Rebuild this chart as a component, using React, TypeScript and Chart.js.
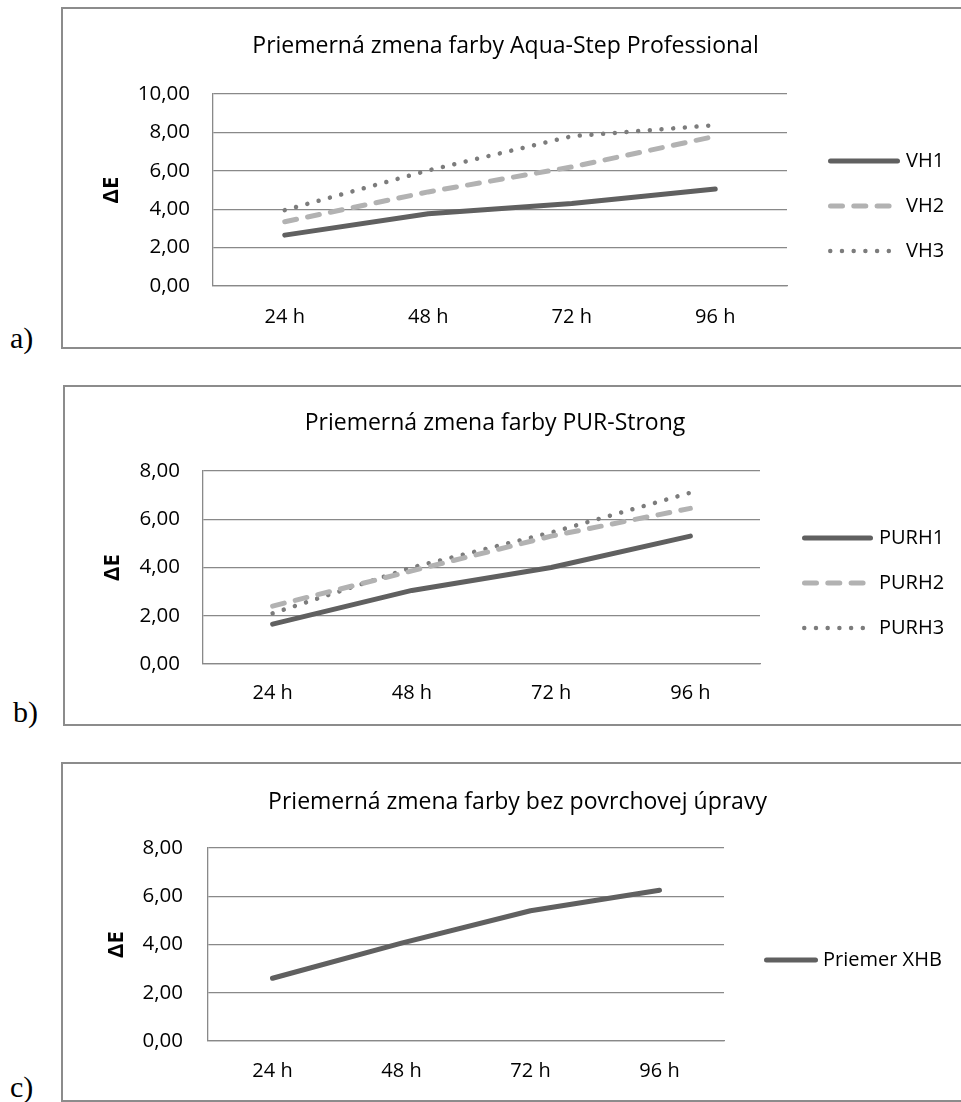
import React, { useEffect, useRef } from 'react';
import { Chart, registerables } from 'chart.js';

Chart.register(...registerables);

// ---------- data ----------
const categories = ['24 h', '48 h', '72 h', '96 h'];

const titleA = 'Priemerná zmena farby Aqua-Step Professional';
const titleB = 'Priemerná zmena farby PUR-Strong';
const titleC = 'Priemerná zmena farby bez povrchovej úpravy';
const yAxisTitle = 'ΔE';

const vh1 = [2.65, 3.76, 4.3, 5.05];
const vh2 = [3.35, 4.9, 6.2, 7.8];
const vh3 = [3.95, 6.02, 7.8, 8.38];

const purh1 = [1.65, 3.05, 4.0, 5.3];
const purh2 = [2.4, 3.86, 5.3, 6.45];
const purh3 = [2.1, 4.0, 5.45, 7.1];

const priemerXhb = [2.6, 4.06, 5.4, 6.25];

const yMaxA = 10;
const yMaxB = 8;
const yMaxC = 8;
const yStep = 2;

const panelLabels = ['a)', 'b)', 'c)'];

// ---------- styles ----------
const FONT = '"Open Sans", Lato, sans-serif';
const GRID = '#898989';
const BOX = '#8c8c8c';

const solid = { borderColor: '#606060', borderWidth: 5, borderDash: [] as number[], borderCapStyle: 'round' };
const dashed = { borderColor: '#b2b2b2', borderWidth: 5, borderDash: [12, 11.3], borderCapStyle: 'round' };
const dotted = { borderColor: '#7c7c7c', borderWidth: 4.5, borderDash: [0.01, 11.7], borderCapStyle: 'round' };

const fmt = (v: number) => v.toFixed(2).replace('.', ',');

const lineLegend = {
  id: 'lineLegend',
  afterDraw(chart: any, _args: any, opts: any) {
    const { ctx, chartArea } = chart;
    const ds = chart.data.datasets;
    const n = ds.length;
    const cy = (chartArea.top + chartArea.bottom) / 2 + opts.offsetY;
    const x0 = chartArea.right + opts.gap;
    ds.forEach((d: any, i: number) => {
      const y = cy + (i - (n - 1) / 2) * opts.rowGap;
      const w = d.borderWidth;
      ctx.save();
      ctx.strokeStyle = d.borderColor;
      ctx.lineWidth = w;
      ctx.lineCap = d.borderCapStyle || 'butt';
      ctx.setLineDash(d.borderDash || []);
      ctx.beginPath();
      ctx.moveTo(x0 + w / 2, y);
      ctx.lineTo(x0 + opts.lineLength - w / 2, y);
      ctx.stroke();
      ctx.restore();
      ctx.save();
      ctx.fillStyle = opts.color;
      ctx.font = `${opts.fontSize}px ${FONT}`;
      ctx.textBaseline = 'middle';
      ctx.textAlign = 'left';
      ctx.fillText(d.label, x0 + opts.lineLength + opts.textGap, y);
      ctx.restore();
    });
  },
};

type Panel = {
  label: string;
  title: string;
  series: { label: string; data: number[]; style: any }[];
  yMax: number;
  box: { left: number; top: number; height: number };
  canvas: { left: number; top: number; width: number; height: number };
  padRight: number;
  yW: number;
  y2W: number;
  xH: number;
  titlePad: { top: number; bottom: number };
  yTitlePad: number;
  yTickPad: number;
  xTickPad: number;
  legend: { gap: number; offsetY: number; rowGap: number; lineLength: number; textGap: number };
  labelPos: { left: number; top: number };
};

const panels: Panel[] = [
  {
    label: panelLabels[0],
    title: titleA,
    series: [
      { label: 'VH1', data: vh1, style: solid },
      { label: 'VH2', data: vh2, style: dashed },
      { label: 'VH3', data: vh3, style: dotted },
    ],
    yMax: yMaxA,
    box: { left: 61, top: 7, height: 342 },
    canvas: { left: 63, top: 10, width: 912, height: 330 },
    padRight: 27,
    yW: 150,
    y2W: 161,
    xH: 54,
    titlePad: { top: 22.6, bottom: 33.8 },
    yTitlePad: 35.5,
    yTickPad: 23,
    xTickPad: 19,
    legend: { gap: 41, offsetY: 16, rowGap: 45, lineLength: 72, textGap: 6 },
    labelPos: { left: 10, top: 323 },
  },
  {
    label: panelLabels[1],
    title: titleB,
    series: [
      { label: 'PURH1', data: purh1, style: solid },
      { label: 'PURH2', data: purh2, style: dashed },
      { label: 'PURH3', data: purh3, style: dotted },
    ],
    yMax: yMaxB,
    box: { left: 63, top: 385, height: 341 },
    canvas: { left: 65, top: 387, width: 910, height: 331 },
    padRight: 50,
    yW: 138,
    y2W: 165,
    xH: 54,
    titlePad: { top: 22.6, bottom: 33.8 },
    yTitlePad: 34.8,
    yTickPad: 23,
    xTickPad: 17,
    legend: { gap: 42, offsetY: 15.5, rowGap: 45, lineLength: 71, textGap: 6 },
    labelPos: { left: 13, top: 697 },
  },
  {
    label: panelLabels[2],
    title: titleC,
    series: [{ label: 'Priemer XHB', data: priemerXhb, style: solid }],
    yMax: yMaxC,
    box: { left: 61, top: 762, height: 340 },
    canvas: { left: 63, top: 764, width: 922, height: 331 },
    padRight: 13,
    yW: 145,
    y2W: 248,
    xH: 54,
    titlePad: { top: 24.6, bottom: 31.8 },
    yTitlePad: 40.8,
    yTickPad: 25,
    xTickPad: 18,
    legend: { gap: 40, offsetY: 15.5, rowGap: 45, lineLength: 54, textGap: 5 },
    labelPos: { left: 10, top: 1072 },
  },
];

function ChartPanel({ p }: { p: Panel }) {
  const ref = useRef<HTMLCanvasElement | null>(null);
  useEffect(() => {
    if (!ref.current) return;
    const chart = new Chart(ref.current, {
      type: 'line',
      data: {
        labels: categories,
        datasets: p.series.map((s) => ({
          label: s.label,
          data: s.data,
          borderColor: s.style.borderColor,
          borderWidth: s.style.borderWidth,
          borderDash: s.style.borderDash,
          borderCapStyle: s.style.borderCapStyle,
          borderJoinStyle: 'round',
          backgroundColor: s.style.borderColor,
          pointRadius: 0,
          pointHoverRadius: 0,
          tension: 0,
          fill: false,
        })),
      },
      options: {
        responsive: false,
        maintainAspectRatio: false,
        animation: false,
        devicePixelRatio: 1,
        layout: { padding: { left: 0, top: 0, bottom: 0, right: p.padRight } },
        events: [],
        plugins: {
          legend: { display: false },
          tooltip: { enabled: false },
          title: {
            display: true,
            text: p.title,
            color: '#000',
            font: { family: FONT, size: 23, weight: 'normal', lineHeight: 1.2 },
            padding: { top: p.titlePad.top, bottom: p.titlePad.bottom },
          },
          lineLegend: { ...p.legend, color: '#000', fontSize: 20 },
        } as any,
        scales: {
          x: {
            type: 'category',
            offset: true,
            grid: { display: false, drawTicks: false },
            border: { display: true, color: GRID, width: 1.3 },
            ticks: { color: '#000', padding: p.xTickPad, font: { family: FONT, size: 20 }, maxRotation: 0 },
            afterFit: (s: any) => {
              s.height = p.xH;
            },
          },
          y: {
            type: 'linear',
            position: 'left',
            min: 0,
            max: p.yMax,
            grid: { display: true, drawTicks: false, color: GRID, lineWidth: 1.3 },
            border: { display: true, color: GRID, width: 1.3 },
            ticks: {
              stepSize: yStep,
              color: '#000',
              padding: p.yTickPad,
              font: { family: FONT, size: 20.5 },
              callback: (v: any) => fmt(Number(v)),
            },
            title: {
              display: true,
              text: yAxisTitle,
              color: '#000',
              font: { family: FONT, size: 22, weight: 'bold', lineHeight: 1.2 },
              padding: { top: p.yTitlePad, bottom: 0 },
            },
            afterFit: (s: any) => {
              s.width = p.yW;
            },
          },
          y2: {
            type: 'linear',
            position: 'right',
            display: true,
            grid: { display: false, drawTicks: false },
            border: { display: false },
            ticks: { display: false },
            afterFit: (s: any) => {
              s.width = p.y2W;
            },
          },
        },
      } as any,
      plugins: [lineLegend as any],
    });
    return () => chart.destroy();
  }, [p]);

  return (
    <>
      <div
        style={{
          position: 'absolute',
          left: p.box.left,
          top: p.box.top,
          width: 961 - p.box.left + 20,
          height: p.box.height,
          boxSizing: 'border-box',
          borderLeft: `2px solid ${BOX}`,
          borderTop: `2px solid ${BOX}`,
          borderBottom: `2px solid ${BOX}`,
        }}
      />
      <canvas
        ref={ref}
        width={p.canvas.width}
        height={p.canvas.height}
        style={{
          position: 'absolute',
          left: p.canvas.left,
          top: p.canvas.top,
          width: p.canvas.width,
          height: p.canvas.height,
        }}
      />
      <div
        style={{
          position: 'absolute',
          left: p.labelPos.left,
          top: p.labelPos.top,
          fontFamily: '"Liberation Serif", "Times New Roman", serif',
          fontSize: 30,
          lineHeight: '30px',
          color: '#000',
        }}
      >
        {p.label}
      </div>
    </>
  );
}

export default function App() {
  return (
    <div
      style={{
        position: 'absolute',
        left: 0,
        top: 0,
        width: 961,
        height: 1102,
        overflow: 'hidden',
        background: '#fff',
      }}
    >
      {panels.map((p) => (
        <ChartPanel key={p.label} p={p} />
      ))}
    </div>
  );
}
